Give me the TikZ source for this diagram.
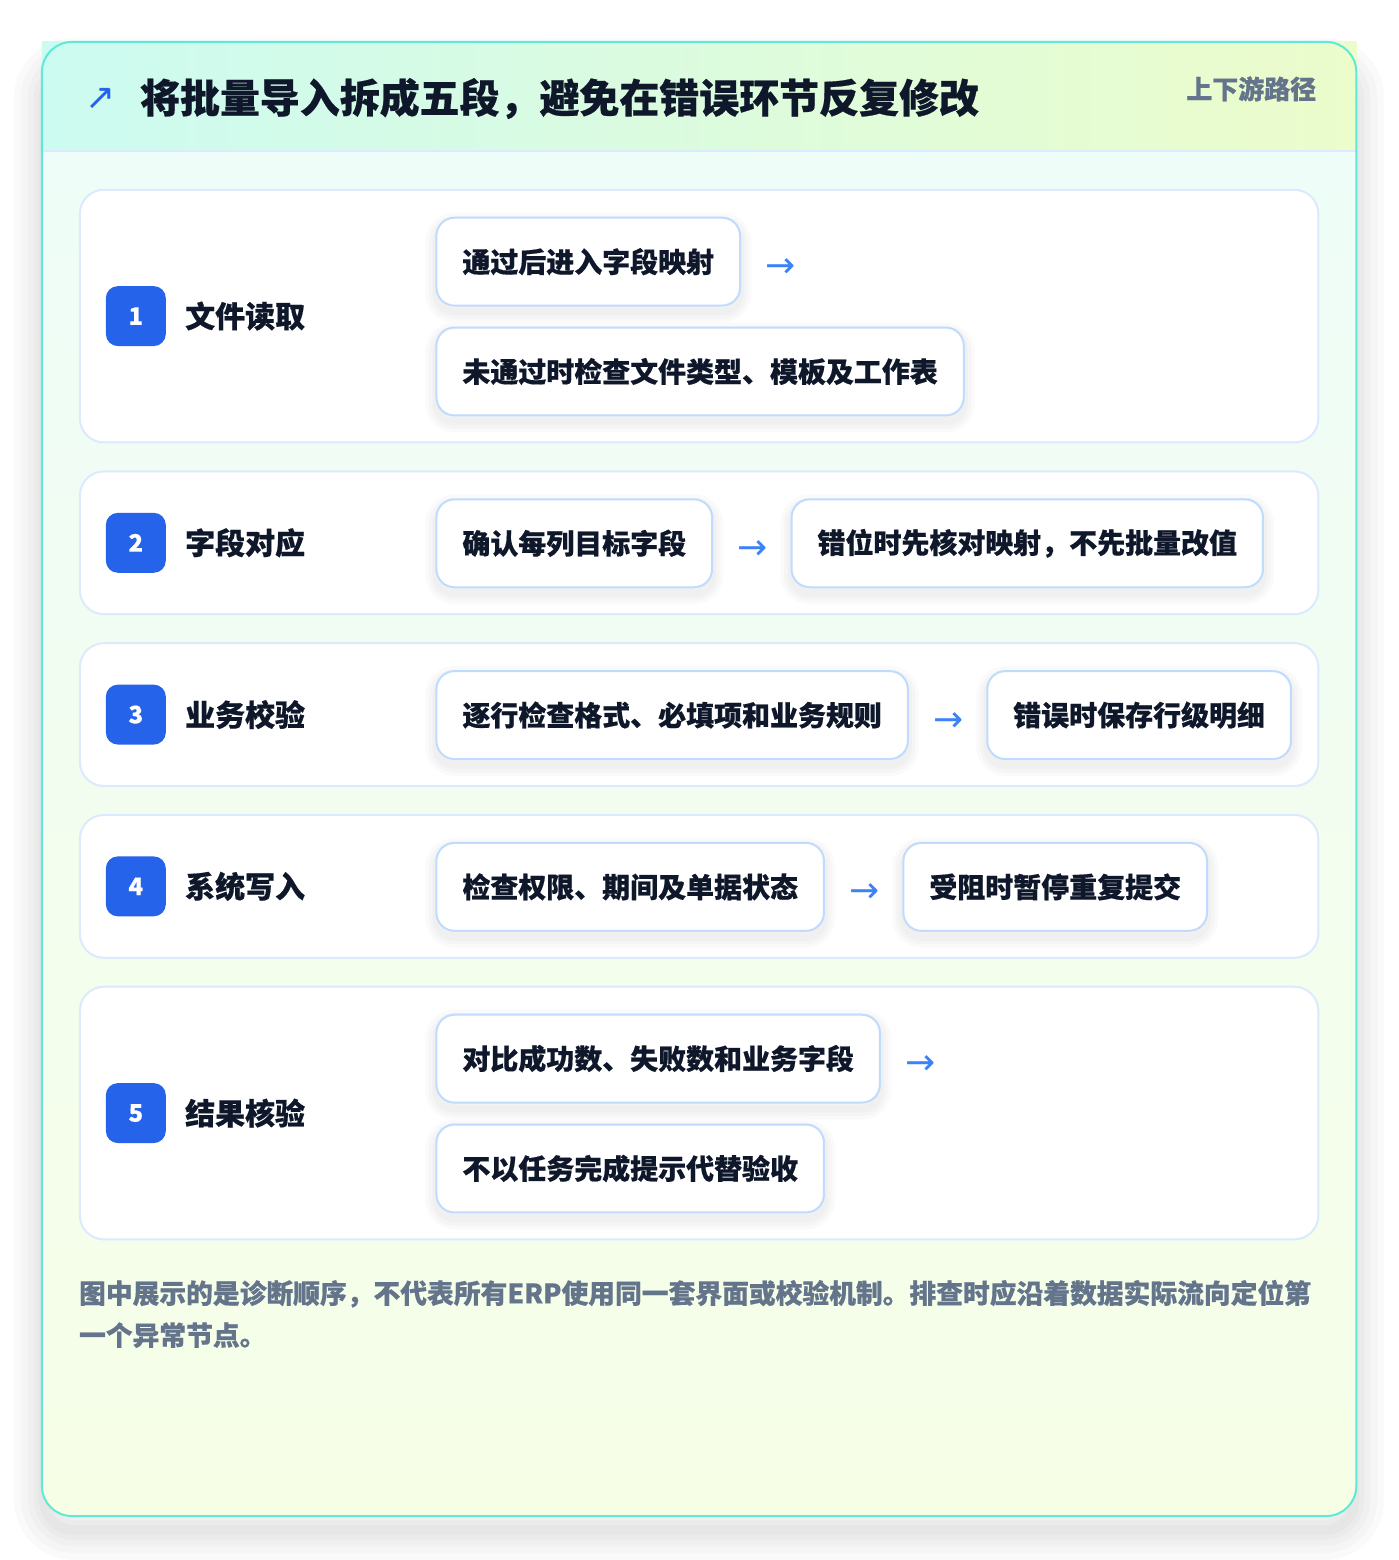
\documentclass[tikz,border=0pt]{standalone}
\usepackage{fontspec}
\setmainfont{Noto Sans CJK SC}[BoldFeatures={FakeBold=0.5}]
\newfontfamily\symfont{DejaVu Sans}
\usetikzlibrary{positioning}
\definecolor{edge}{HTML}{5EEAD4}
\definecolor{mint}{HTML}{CCFBF1}
\definecolor{lime}{HTML}{ECFCCB}
\definecolor{bodytop}{HTML}{EFFDF8}
\definecolor{bodybot}{HTML}{F6FEE6}
\definecolor{cardline}{HTML}{DBEAFE}
\definecolor{boxline}{HTML}{BFDBFE}
\definecolor{badgeblue}{HTML}{2563EB}
\definecolor{arrblue}{HTML}{3B82F6}
\definecolor{ink}{HTML}{0F172A}
\definecolor{slate}{HTML}{64748B}

\begin{document}
\begin{tikzpicture}[x=1pt,y=-1pt,
  ring/.style={preaction={draw=black,draw opacity=0.018,line width=#1,transform canvas={yshift=-6pt}}},
  card/.style={draw=cardline,line width=2pt,fill=white,rounded corners=24pt},
  badge/.style={fill=badgeblue,rounded corners=12pt,minimum size=60pt,inner sep=0pt,text=white,font=\fontsize{24}{24}\selectfont\bfseries},
  steplab/.style={inner sep=0pt,text=ink,font=\fontsize{30}{30}\selectfont\bfseries},
  sub/.style={draw=boxline,line width=2pt,fill=white,rounded corners=18pt,minimum height=88pt,inner xsep=26pt,inner ysep=0pt,text=ink,font=\fontsize{28}{28}\selectfont\bfseries,
    ring=22pt,ring=15pt,ring=8pt},
  arr/.style={inner sep=0pt,minimum width=30pt,text height=32pt,text depth=0pt,text=arrblue,font=\symfont\fontsize{36}{36}\selectfont},
]
\fill[white] (0,0) rectangle (1400,1560); %page
\foreach \w in {60,46,32,20,10}{ %shadow
  \draw[black,opacity=0.018,line width=\w pt,rounded corners=30pt] (44,68) rectangle (1356,1532);
}
\fill[white,rounded corners=30pt] (42,42) rectangle (1358,1518);
\begin{scope}
  \clip[rounded corners=30pt] (42,42) rectangle (1358,1518);
  \shade[top color=bodytop,bottom color=bodybot] (42,151) rectangle (1358,1518); %body
\end{scope}
\shade[left color=mint,right color=lime] (42,42) rectangle (1358,151); %header
\draw[cardline,line width=2pt] (42,151) -- (1358,151);
\draw[edge,line width=2pt,rounded corners=30pt] (42,42) rectangle (1358,1518);

\node[text=badgeblue,inner sep=0pt,font=\symfont\fontsize{36}{36}\selectfont] (icon) at (101,99) {↗};
\node[anchor=base west,inner sep=0pt,text=ink,font=\fontsize{40}{40}\selectfont\bfseries\addfontfeature{FakeBold=1.2}] (title) at (140,113) {将批量导入拆成五段，避免在错误环节反复修改};
\node[anchor=base east,inner sep=0pt,text=slate,font=\fontsize{26}{26}\selectfont\bfseries] (path) at (1318,99) {上下游路径};

\foreach \n/\t/\b/\lab in {1/190/443/文件读取,2/472/615/字段对应,3/644/787/业务校验,4/816/959/系统写入,5/988/1241/结果核验}{
  \draw[card] (80,\t) rectangle (1320,\b);
  \node[badge] (badge\n) at (136,{(\t+\b)/2}) {\n};
  \node[steplab,right=19pt of badge\n] (lab\n) {\lab};
}

% 1
\node[sub,anchor=west] (b11) at (436,262) {通过后进入字段映射};
\node[arr,right=24pt of b11] (a11) {→};
\node[sub,anchor=west] (b12) at (436,372) {未通过时检查文件类型、模板及工作表};
% 2
\node[sub,anchor=west] (b21) at (436,544) {确认每列目标字段};
\node[arr,right=24pt of b21] (a21) {→};
\node[sub,right=23pt of a21] (b22) {错位时先核对映射，不先批量改值};
% 3
\node[sub,anchor=west] (b31) at (436,716) {逐行检查格式、必填项和业务规则};
\node[arr,right=24pt of b31] (a31) {→};
\node[sub,right=23pt of a31] (b32) {错误时保存行级明细};
% 4
\node[sub,anchor=west] (b41) at (436,888) {检查权限、期间及单据状态};
\node[arr,right=24pt of b41] (a41) {→};
\node[sub,right=23pt of a41] (b42) {受阻时暂停重复提交};
% 5
\node[sub,anchor=west] (b51) at (436,1060) {对比成功数、失败数和业务字段};
\node[arr,right=24pt of b51] (a51) {→};
\node[sub,anchor=west] (b52) at (436,1170) {不以任务完成提示代替验收};

\node[anchor=base west,inner sep=0pt,text=slate,font=\fontsize{26.8}{26.8}\selectfont\bfseries] (note1) at (79,1305) {图中展示的是诊断顺序，不代表所有ERP使用同一套界面或校验机制。排查时应沿着数据实际流向定位第};
\node[anchor=base west,inner sep=0pt,text=slate,font=\fontsize{26.8}{26.8}\selectfont\bfseries] (note2) at (79,1347) {一个异常节点。};
\end{tikzpicture}
\end{document}
